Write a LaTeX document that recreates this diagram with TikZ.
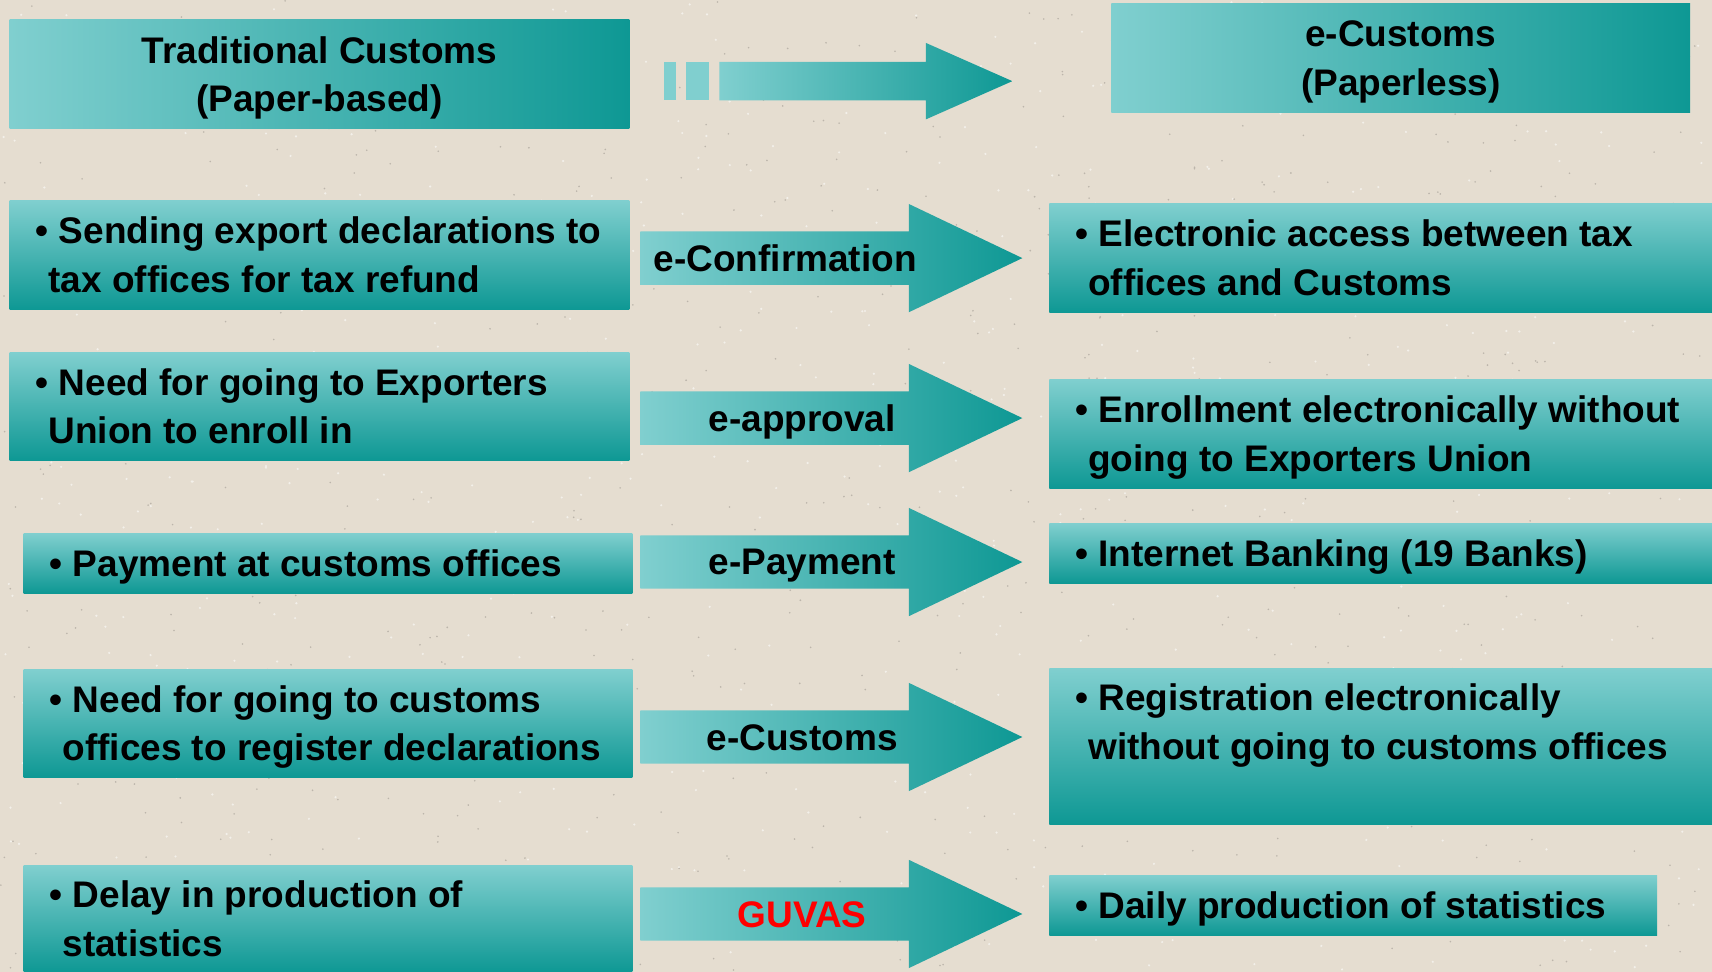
\documentclass[tikz,border=0pt]{standalone}
\usepackage{fontspec}
\setmainfont{Liberation Sans}
\usetikzlibrary{shapes.arrows, positioning}
\definecolor{tealLight}{RGB}{128,207,207}
\definecolor{tealDark}{RGB}{14,152,148}
\definecolor{paper}{RGB}{229,221,208}
\newcommand{\slidefont}{\bfseries\fontsize{37}{48.5}\selectfont}
\tikzset{x=1pt, y=-1pt, % one unit is one pixel of the slide, y goes down
box/.style={ % bullet boxes, shaded top to bottom
rectangle, anchor=north west, inner sep=0pt,
top color=tealLight, bottom color=tealDark},
titlebox/.style={ % the two headers, shaded left to right
rectangle, anchor=north west, inner sep=0pt, align=center, text depth=0pt,
left color=tealLight, right color=tealDark, font=\slidefont},
boxtext/.style={inner sep=0pt, align=left, text depth=0pt, font=\slidefont},
bigarrow/.style={ % block arrows between the boxes
single arrow, anchor=tail, inner sep=0pt, inner ysep=26.5pt,
single arrow head extend=27.5pt, single arrow tip angle=51,
minimum width=108pt, minimum height=382pt,
left color=tealLight, right color=tealDark},
arrowtext/.style={text depth=0pt, font=\slidefont}}

\begin{document}
\begin{tikzpicture}

    % paper background
    \fill[paper] (0,0) rectangle (1712,972);
    \pgfmathsetseed{11}
    \foreach \i in {1,...,700} {
        \fill[paper!82!black] (rnd*1712, rnd*972) circle (0.9pt);
        \fill[white!55!paper] (rnd*1712, rnd*972) circle (1.2pt);
    }
    \useasboundingbox (0,0) rectangle (1712,972);

    % headers
    \node[titlebox, minimum width=620pt, minimum height=109pt] (oldhead) at (9,19) {Traditional Customs\\(Paper-based)};
    \node[titlebox, minimum width=579pt, minimum height=109pt] (newhead) at (1111,3) {e-Customs\\(Paperless)};
    \fill[tealLight] (664,62) rectangle (676,100);
    \fill[tealLight] (686,62) rectangle (709,100);
    \node[bigarrow, inner ysep=19pt, single arrow head extend=19pt, single arrow tip angle=47.7,
        minimum width=76pt, minimum height=293pt] (headarrow) at (719,81) {};

    % traditional side
    \node[box, minimum width=620pt, minimum height=109pt] (oldrefund) at (9,200) {};
    \node[box, minimum width=620pt, minimum height=108pt] (oldenrol) at (9,352) {};
    \node[box, minimum width=609pt, minimum height=60pt] (oldpay) at (23,533) {};
    \node[box, minimum width=609pt, minimum height=108pt] (oldregister) at (23,669) {};
    \node[box, minimum width=609pt, minimum height=107pt] (oldstats) at (23,865) {};

    \node[boxtext, right=26pt of oldrefund.west] (oldrefundtext) {\textbullet\ Sending export declarations to\\\hspace*{0.35em}tax offices for tax refund};
    \node[boxtext, right=26pt of oldenrol.west] (oldenroltext) {\textbullet\ Need for going to Exporters\\\hspace*{0.35em}Union to enroll in};
    \node[boxtext, right=26pt of oldpay.west] (oldpaytext) {\textbullet\ Payment at customs offices};
    \node[boxtext, right=26pt of oldregister.west] (oldregistertext) {\textbullet\ Need for going to customs\\\hspace*{0.35em}offices to register declarations};
    \node[boxtext, right=26pt of oldstats.west] (oldstatstext) {\textbullet\ Delay in production of\\\hspace*{0.35em}statistics};

    % e-customs side
    \node[box, minimum width=663pt, minimum height=109pt] (newrefund) at (1049,203) {};
    \node[box, minimum width=663pt, minimum height=109pt] (newenrol) at (1049,379) {};
    \node[box, minimum width=663pt, minimum height=60pt] (newpay) at (1049,523) {};
    \node[box, minimum width=663pt, minimum height=156pt] (newregister) at (1049,668) {};
    \node[box, minimum width=608pt, minimum height=60pt] (newstats) at (1049,875) {};

    \node[boxtext, right=26pt of newrefund.west] (newrefundtext) {\textbullet\ Electronic access between tax\\\hspace*{0.35em}offices and Customs};
    \node[boxtext, right=26pt of newenrol.west] (newenroltext) {\textbullet\ Enrollment electronically without\\\hspace*{0.35em}going to Exporters Union};
    \node[boxtext, right=26pt of newpay.west] (newpaytext) {\textbullet\ Internet Banking (19 Banks)};
    \node[boxtext, right=26pt of newregister.west, yshift=24.5pt] (newregistertext) {\textbullet\ Registration electronically\\\hspace*{0.35em}without going to customs offices};
    \node[boxtext, right=26pt of newstats.west] (newstatstext) {\textbullet\ Daily production of statistics};

    % arrows
    \node[bigarrow] (refundarrow) at (640,258) {};
    \node[bigarrow] (enrolarrow) at (640,418) {};
    \node[bigarrow] (payarrow) at (640,562) {};
    \node[bigarrow] (registerarrow) at (640,737) {};
    \node[bigarrow] (statsarrow) at (640,914) {};

    \node[arrowtext] (refundlabel) at (785,258) {e-Confirmation};
    \node[arrowtext] (enrollabel) at (802,418) {e-approval};
    \node[arrowtext] (paylabel) at (802,562) {e-Payment};
    \node[arrowtext] (registerlabel) at (802,738) {e-Customs};
    \node[arrowtext, red] (statslabel) at (802,915) {GUVAS};

\end{tikzpicture}
\end{document}
